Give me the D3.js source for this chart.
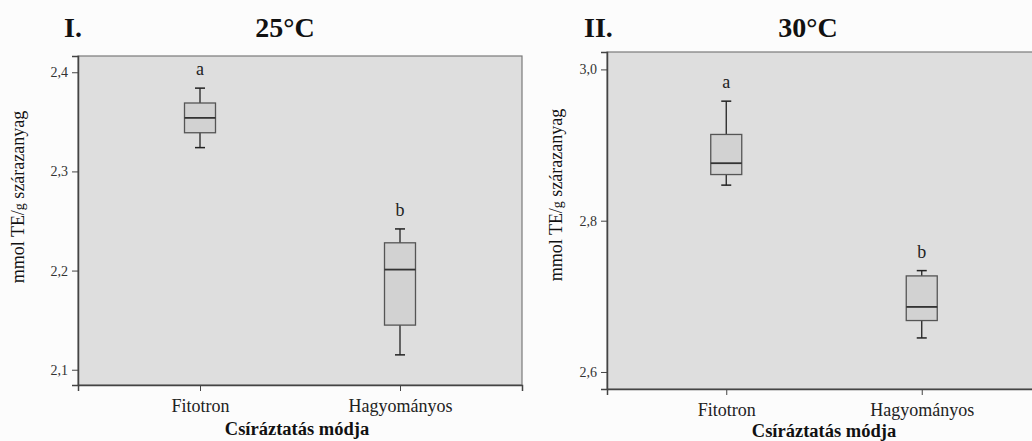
<!DOCTYPE html>
<html>
<head>
<meta charset="utf-8">
<script src="https://cdn.jsdelivr.net/npm/d3@7"></script>
<style>
  body { margin: 0; background: #fcfcfc; }
  svg { display: block; font-family: "Liberation Serif", "Times New Roman", serif; }
</style>
</head>
<body>
<svg id="chart" width="1032" height="441"></svg>
<script>
// --- DATA ---
const categories = ["Fitotron", "Hagyományos"];

// 25°C panel: whisker low, Q1, median, Q3, whisker high
const lowI    = [2.324, 2.115];
const q1I     = [2.339, 2.145];
const medI    = [2.354, 2.201];
const q3I     = [2.369, 2.228];
const highI   = [2.384, 2.242];
const lettersI = ["a", "b"];
const ticksI  = [2.1, 2.2, 2.3, 2.4];

// 30°C panel
const lowII   = [2.847, 2.645];
const q1II    = [2.861, 2.668];
const medII   = [2.876, 2.686];
const q3II    = [2.914, 2.727];
const highII  = [2.958, 2.734];
const lettersII = ["a", "b"];
const ticksII = [2.6, 2.8, 3.0];

const svg = d3.select("#chart");
const fmt = v => d3.format(".1f")(v).replace(".", ",");

function drawPanel(p) {
    const g = svg.append("g");

    const x = d3.scalePoint()
        .domain(categories)
        .range([p.left, p.right])
        .padding(0.61);

    const y = d3.scaleLinear()
        .domain(p.domain)
        .range([p.bottom, p.top]);

    // plot background
    g.append("rect")
        .attr("x", p.left).attr("y", p.top)
        .attr("width", p.right - p.left).attr("height", p.bottom - p.top)
        .attr("fill", "#dedede")
        .attr("stroke", "#7a7a7a")
        .attr("stroke-width", 1.2);

    // y axis
    const yAxis = g.append("g")
        .attr("transform", `translate(${p.left},0)`)
        .call(d3.axisLeft(y).tickValues(p.ticks).tickFormat(fmt).tickSize(6).tickPadding(4));
    yAxis.select(".domain").attr("stroke", "#444").attr("stroke-width", 1.5);
    yAxis.selectAll(".tick line").attr("stroke", "#444");
    yAxis.selectAll(".tick text")
        .attr("fill", "#333")
        .style("font-size", "14px")
        .style("font-family", "Liberation Serif, serif");

    // x axis
    const xAxis = g.append("g")
        .attr("transform", `translate(0,${p.bottom})`)
        .call(d3.axisBottom(x).tickSize(6).tickPadding(8));
    xAxis.select(".domain").attr("stroke", "#444").attr("stroke-width", 1.5);
    xAxis.selectAll(".tick line").attr("stroke", "#444");
    xAxis.selectAll(".tick text")
        .attr("fill", "#222")
        .style("font-size", "18px")
        .style("font-family", "Liberation Serif, serif");

    const boxW = 31;
    const rows = categories.map((c, i) => ({
        cat: c, low: p.low[i], q1: p.q1[i], med: p.med[i], q3: p.q3[i], high: p.high[i], letter: p.letters[i]
    }));

    const box = g.selectAll(".box").data(rows).enter().append("g").attr("class", "box");

    // whiskers
    box.append("line")
        .attr("x1", d => x(d.cat)).attr("x2", d => x(d.cat))
        .attr("y1", d => y(d.high)).attr("y2", d => y(d.low))
        .attr("stroke", "#222").attr("stroke-width", 1.3);
    box.selectAll(".cap").data(d => [d.high, d.low].map(v => ({cat: d.cat, v: v})))
        .enter().append("line")
        .attr("x1", d => x(d.cat) - 5).attr("x2", d => x(d.cat) + 5)
        .attr("y1", d => y(d.v)).attr("y2", d => y(d.v))
        .attr("stroke", "#222").attr("stroke-width", 1.5);

    // box
    box.append("rect")
        .attr("x", d => x(d.cat) - boxW / 2)
        .attr("y", d => y(d.q3))
        .attr("width", boxW)
        .attr("height", d => y(d.q1) - y(d.q3))
        .attr("fill", "#d2d2d2")
        .attr("stroke", "#555").attr("stroke-width", 1.3);

    // median
    box.append("line")
        .attr("x1", d => x(d.cat) - boxW / 2).attr("x2", d => x(d.cat) + boxW / 2)
        .attr("y1", d => y(d.med)).attr("y2", d => y(d.med))
        .attr("stroke", "#333").attr("stroke-width", 1.8);

    // significance letters
    box.append("text")
        .attr("x", d => x(d.cat))
        .attr("y", d => y(d.high) - 13)
        .attr("text-anchor", "middle")
        .attr("fill", "#222")
        .style("font-size", "18px")
        .text(d => d.letter);

    // y axis title
    const yt = g.append("text")
        .attr("transform", `translate(${p.yTitleX},${p.yTitleY}) rotate(-90)`)
        .attr("text-anchor", "middle")
        .attr("fill", "#111")
        .style("font-size", "18px");
    yt.append("tspan").text("mmol TE/");
    yt.append("tspan").style("font-size", "14px").text("g");
    yt.append("tspan").text("  szárazanyag");

    // x axis title
    g.append("text")
        .attr("x", p.xTitleX).attr("y", p.xTitleY)
        .attr("text-anchor", "middle")
        .attr("fill", "#111")
        .style("font-size", "18.5px").style("font-weight", "bold")
        .text("Csíráztatás módja");

    // panel titles
    g.append("text")
        .attr("x", p.numX).attr("y", 37)
        .attr("fill", "#111")
        .style("font-size", "28px").style("font-weight", "bold")
        .text(p.num);
    g.append("text")
        .attr("x", p.tempX).attr("y", 37)
        .attr("text-anchor", "middle")
        .attr("fill", "#111")
        .style("font-size", "28px").style("font-weight", "bold")
        .text(p.temp);
}

drawPanel({
    left: 78, right: 522, top: 56, bottom: 385,
    domain: [2.0846, 2.4164], ticks: ticksI,
    low: lowI, q1: q1I, med: medI, q3: q3I, high: highI, letters: lettersI,
    yTitleX: 24, yTitleY: 197, xTitleX: 297, xTitleY: 435,
    num: "I.", numX: 64, temp: "25°C", tempX: 285
});

drawPanel({
    left: 607, right: 1041, top: 52, bottom: 389,
    domain: [2.5775, 3.0230], ticks: ticksII,
    low: lowII, q1: q1II, med: medII, q3: q3II, high: highII, letters: lettersII,
    yTitleX: 562, yTitleY: 195, xTitleX: 824, xTitleY: 437,
    num: "II.", numX: 584, temp: "30°C", tempX: 808
});
</script>
</body>
</html>
